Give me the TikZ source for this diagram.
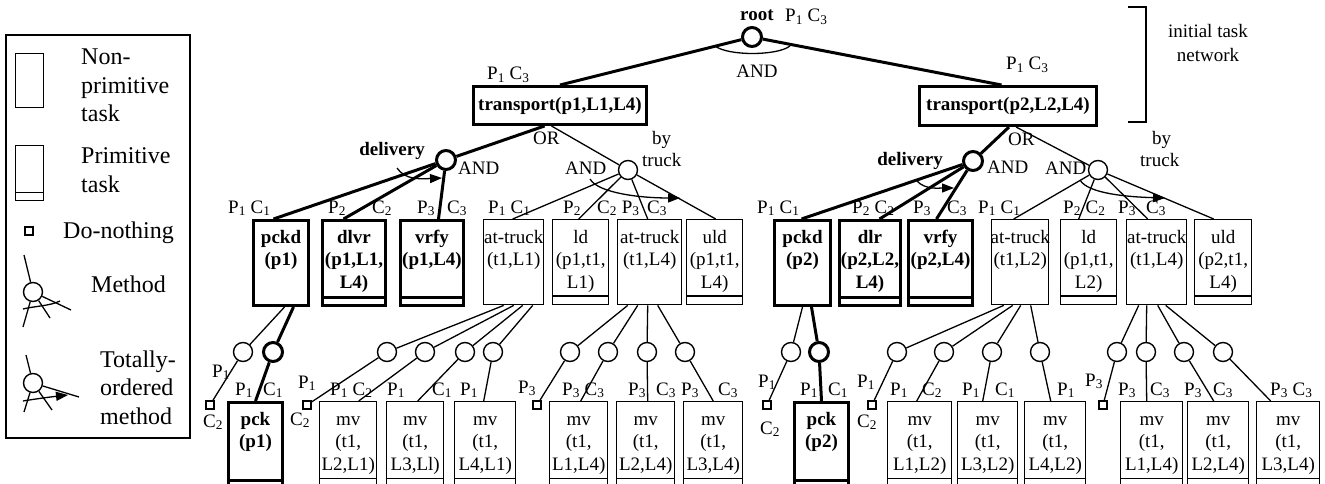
\documentclass[tikz,border=0pt]{standalone}
\usepackage{fontspec}
\setmainfont{Liberation Serif}
\usetikzlibrary{arrows.meta}
\newcommand{\sbs}[1]{\textsubscript{#1}}
\newcommand{\mfont}{\fontsize{19}{22.5}\selectfont}
\newcommand{\lfont}{\fontsize{24}{28.5}\selectfont}
\newcommand{\tsk}[5]{\node[#1, minimum width=#4pt] (#2) at (#3) {}; \node[ttext] at ([yshift=-24pt]#2.north) {\begin{tabular}[t]{@{}c@{}}#5\end{tabular}};}
\newcommand{\btsk}[5]{\node[#1, minimum width=#4pt] (#2) at (#3) {}; \node[bttext] at ([yshift=-24pt]#2.north) {\begin{tabular}[t]{@{}c@{}}#5\end{tabular}};}
\newcommand{\sepl}[3]{\draw[#1] ([yshift=#3pt]#2.south west) -- ([yshift=#3pt]#2.south east);}
\begin{document}
\begin{tikzpicture}[x=1pt,y=-1pt,
  every node/.style={font=\mfont, inner sep=0pt},
  ln/.style={line width=1.3pt},
  tl/.style={line width=3pt},
  task/.style={draw, line width=1.4pt, anchor=north west},
  btask/.style={task, line width=3pt},
  upper/.style={minimum height=85pt},
  lower/.style={minimum height=94pt},
  ttext/.style={anchor=base},
  bttext/.style={ttext, font=\mfont\bfseries},
  meth/.style={circle, draw, line width=1.4pt, minimum size=19pt},
  bmeth/.style={meth, line width=3pt},
  nothing/.style={draw, line width=1.3pt, minimum size=8pt},
  lab/.style={anchor=base west},
  ord/.style={ln, -{Triangle[length=12pt,width=9pt]}},
  lgtext/.style={anchor=base west, font=\lfont},
]
\useasboundingbox (0,0) rectangle (1325,484);
\clip (0,0) rectangle (1325,484);

% ---------------- legend ----------------
\draw[line width=1.4pt] (6,35) rectangle (190,438);
\node[task, minimum width=28pt, minimum height=54pt] (lg1) at (15,53) {};
\node[lgtext] (lg1t) at (81,65) {\begin{tabular}[t]{@{}l@{}}Non-\\primitive\\task\end{tabular}};
\node[task, minimum width=28pt, minimum height=55pt] (lg2) at (15,145) {};
\sepl{ln}{lg2}{9}
\node[lgtext] (lg2t) at (81,164) {\begin{tabular}[t]{@{}l@{}}Primitive\\task\end{tabular}};
\node[nothing] (lg3) at (29,231) {};
\node[lgtext] (lg3t) at (63,238) {Do-nothing};
\node[meth] (lgm) at (33,292) {};
\coordinate (lgm0) at (24,255);
\coordinate (lgm1) at (23,327);
\coordinate (lgm2) at (50,318);
\coordinate (lgm3) at (71,310);
\draw[ln] (lgm0) -- (lgm);
\draw[ln] (lgm) -- (lgm1);
\draw[ln] (lgm) -- (lgm2);
\draw[ln] (lgm) -- (lgm3);
\draw[ln] (23,309) .. controls (35,306) and (50,306) .. (60,301);
\node[lgtext] (lgmt) at (91,292) {Method};
\node[meth] (lgo) at (33,383) {};
\coordinate (lgo0) at (26,355);
\coordinate (lgo1) at (24,412);
\coordinate (lgo2) at (52,410);
\coordinate (lgo3) at (79,397);
\draw[ln] (lgo0) -- (lgo);
\draw[ln] (lgo) -- (lgo1);
\draw[ln] (lgo) -- (lgo2);
\draw[ln] (lgo) -- (lgo3);
\draw[ord] (23,401) .. controls (35,399) and (50,397) .. (68,395);
\node[lgtext] (lgot) at (100,367) {\begin{tabular}[t]{@{}l@{}}Totally-\\ordered\\method\end{tabular}};

% ---------------- top ----------------
\node[bmeth] (root) at (752,37) {};
\node[font=\mfont\bfseries, anchor=base west] (rootlab) at (740,21) {root};
\node[lab] (rootpc) at (785,22) {P\sbs{1} C\sbs{3}};
\draw[ln] (715,46) .. controls (728,56) and (777,56) .. (790,46);
\node[anchor=base] (andr) at (757,78) {AND};
\node[btask, minimum width=173pt, minimum height=38pt, font=\mfont\bfseries] (tr1) at (472,85) {transport(p1,L1,L4)};
\node[btask, minimum width=177pt, minimum height=39pt, font=\mfont\bfseries] (tr2) at (918,85) {transport(p2,L2,L4)};
\node[lab] (tr1pc) at (487,80) {P\sbs{1} C\sbs{3}};
\node[lab] (tr2pc) at (1006,70) {P\sbs{1} C\sbs{3}};
\draw[tl] (root) -- (tr1.north);
\draw[tl] (root) -- ([xshift=-6.5pt]tr2.north);
\draw[ln] (1128,7) -- (1146,7) -- (1146,122) -- (1128,122);
\node[anchor=base] (itn1) at (1208,38) {initial task};
\node[anchor=base] (itn2) at (1208,62) {network};

% ---------------- methods level 2 ----------------
\node[bmeth] (del1) at (446,160) {};
\node[meth] (tru1) at (628,170) {};
\node[bmeth] (del2) at (973,161) {};
\node[meth] (tru2) at (1098,170) {};
\draw[tl] ([xshift=-15.5pt]tr1.south) -- (del1);
\draw[ln] ([xshift=-8.5pt]tr1.south) -- (tru1);
\draw[tl] ([xshift=1pt]tr2.south) -- (del2);
\draw[ln] ([xshift=8pt]tr2.south) -- (tru2);
\node[lab] (or1) at (533,145) {OR};
\node[lab] (by1) at (652,145) {by};
\node[lab] (tk1) at (642,167) {truck};
\node[lab] (and1) at (458,175) {AND};
\node[lab] (and2) at (565,175) {AND};
\node[anchor=base east, font=\mfont\bfseries] (dl1) at (425,155) {delivery};
\node[lab] (or2) at (1008,146) {OR};
\node[lab] (by2) at (1152,145) {by};
\node[lab] (tk2) at (1140,167) {truck};
\node[lab] (and3) at (987,173) {AND};
\node[lab] (and4) at (1045,175) {AND};
\node[anchor=base east, font=\mfont\bfseries] (dl2) at (943,165) {delivery};

% ---------------- tasks level 2/3 ----------------
\btsk{btask,upper}{pckd1}{252,219}{55}{pckd\\(p1)}
\btsk{btask,upper}{dlvr1}{321,219}{63}{dlvr\\(p1,L1,\\L4)}
\sepl{tl}{dlvr1}{10}
\btsk{btask,upper}{vrfy1}{399,219}{63}{vrfy\\(p1,L4)}
\sepl{tl}{vrfy1}{10}
\tsk{task,upper}{atA}{483,219}{60}{at-truck\\(t1,L1)}
\tsk{task,upper}{ldA}{552,219}{56}{ld\\(p1,t1,\\L1)}
\sepl{ln}{ldA}{9.5}
\tsk{task,upper}{atB}{617,219}{64}{at-truck\\(t1,L4)}
\tsk{task,upper}{uldA}{686,219}{56}{uld\\(p1,t1,\\L4)}
\sepl{ln}{uldA}{9.5}
\btsk{btask,upper}{pckd2}{773,219}{56}{pckd\\(p2)}
\btsk{btask,upper}{dlr2}{838,219}{61}{dlr\\(p2,L2,\\L4)}
\sepl{tl}{dlr2}{10}
\btsk{btask,upper}{vrfy2}{907,219}{64}{vrfy\\(p2,L4)}
\sepl{tl}{vrfy2}{10}
\tsk{task,upper}{atC}{991,219}{57}{at-truck\\(t1,L2)}
\tsk{task,upper}{ldB}{1060,219}{56}{ld\\(p1,t1,\\L2)}
\sepl{ln}{ldB}{9.5}
\tsk{task,upper}{atD}{1126,219}{60}{at-truck\\(t1,L4)}
\tsk{task,upper}{uldB}{1194,219}{57}{uld\\(p2,t1,\\L4)}
\sepl{ln}{uldB}{9.5}

\draw[tl] (del1) -- ([xshift=-7.5pt]pckd1.north);
\draw[tl] (del1) -- ([xshift=-10.5pt]dlvr1.north);
\draw[tl] (del1) -- ([xshift=6.5pt]vrfy1.north);
\draw[ord] (397,168) .. controls (405,180) and (420,179) .. (442,178);
\draw[ln] (tru1) -- ([xshift=-1pt]atA.north);
\draw[ln] (tru1) -- ([xshift=-2pt]ldA.north);
\draw[ln] (tru1) -- ([xshift=-2pt]atB.north);
\draw[ln] (tru1) -- ([xshift=1pt]uldA.north);
\draw[ord] (590,179) .. controls (598,193) and (640,198) .. (680,198);
\draw[tl] (del2) -- ([xshift=-1pt]pckd2.north);
\draw[tl] (del2) -- ([xshift=9.5pt]dlr2.north);
\draw[tl] (del2) -- ([xshift=-4pt]vrfy2.north);
\draw[ord] (917,181) .. controls (925,190) and (940,188) .. (954,188);
\draw[ln] (tru2) -- ([xshift=-6.5pt]atC.north);
\draw[ln] (tru2) -- ([xshift=-10pt]ldB.north);
\draw[ln] (tru2) -- ([xshift=-9pt]atD.north);
\draw[ln] (tru2) -- ([xshift=-9.5pt]uldB.north);
\draw[ord] (1080,180) .. controls (1088,194) and (1130,197) .. (1165,198);

% labels level 2/3
\node[lab] at (228,213) {P\sbs{1} C\sbs{1}};
\node[lab] at (328,213) {P\sbs{2}};
\node[lab] at (372,213) {C\sbs{2}};
\node[lab] at (417,213) {P\sbs{3}};
\node[lab] at (447,213) {C\sbs{3}};
\node[lab] at (488,213) {P\sbs{1} C\sbs{1}};
\node[lab] at (563,213) {P\sbs{2}};
\node[lab] at (597,213) {C\sbs{2} P\sbs{3}};
\node[lab] at (647,213) {C\sbs{3}};
\node[lab] at (757,213) {P\sbs{1} C\sbs{1}};
\node[lab] at (852,213) {P\sbs{2} C\sbs{2}};
\node[lab] at (913,213) {P\sbs{3}};
\node[lab] at (947,213) {C\sbs{3}};
\node[lab] at (978,213) {P\sbs{1} C\sbs{1}};
\node[lab] at (1063,213) {P\sbs{2} C\sbs{2}};
\node[lab] at (1118,213) {P\sbs{3}};
\node[lab] at (1146,213) {C\sbs{3}};

% ---------------- bottom level ----------------
\btsk{btask,lower}{pckA}{227,401}{54}{pck\\(p1)}
\sepl{tl}{pckA}{18}
\tsk{task,lower}{mv1}{319,401}{57}{mv\\(t1,\\L2,L1)}
\tsk{task,lower}{mv2}{386,401}{57}{mv\\(t1,\\L3,Ll)}
\tsk{task,lower}{mv3}{454,401}{61}{mv\\(t1,\\L4,L1)}
\tsk{task,lower}{mv4}{549,401}{58}{mv\\(t1,\\L1,L4)}
\tsk{task,lower}{mv5}{616,401}{58}{mv\\(t1,\\L2,L4)}
\tsk{task,lower}{mv6}{683,401}{59}{mv\\(t1,\\L3,L4)}
\btsk{btask,lower}{pckB}{793,401}{54}{pck\\(p2)}
\sepl{tl}{pckB}{18}
\tsk{task,lower}{mv7}{887,401}{64}{mv\\(t1,\\L1,L2)}
\tsk{task,lower}{mv8}{957,401}{60}{mv\\(t1,\\L3,L2)}
\tsk{task,lower}{mv9}{1024,401}{61}{mv\\(t1,\\L4,L2)}
\tsk{task,lower}{mv10}{1120,401}{62}{mv\\(t1,\\L1,L4)}
\tsk{task,lower}{mv11}{1187,401}{61}{mv\\(t1,\\L2,L4)}
\tsk{task,lower}{mv12}{1256,401}{63}{mv\\(t1,\\L3,L4)}
\foreach \m in {mv1,mv2,mv3,mv4,mv5,mv6,mv7,mv8,mv9,mv10,mv11,mv12}{\sepl{ln}{\m}{18}}

\node[meth] (cA) at (243,352) {};
\node[bmeth] (cB) at (273,352) {};
\node[meth] (cC) at (387,352) {};
\node[meth] (cD) at (425,352) {};
\node[meth] (cE) at (465,352) {};
\node[meth] (cF) at (493,352) {};
\node[meth] (cG) at (570,352) {};
\node[meth] (cH) at (608,352) {};
\node[meth] (cI) at (647,352) {};
\node[meth] (cJ) at (685,352) {};
\node[meth] (cK) at (791,352) {};
\node[bmeth] (cL) at (819,352) {};
\node[meth] (cM) at (897,352) {};
\node[meth] (cN) at (944,352) {};
\node[meth] (cO) at (992,352) {};
\node[meth] (cP) at (1040,352) {};
\node[meth] (cQ) at (1117,352) {};
\node[meth] (cR) at (1146,352) {};
\node[meth] (cS) at (1184,352) {};
\node[meth] (cT) at (1223,352) {};

\node[nothing] (n1) at (210,405) {};
\node[nothing] (n2) at (307,405) {};
\node[nothing] (n3) at (537,405) {};
\node[nothing] (n4) at (767,405) {};
\node[nothing] (n5) at (872,405) {};
\node[nothing] (n6) at (1103,405) {};

% connectors bottom
\draw[ln] ([xshift=3.5pt]pckd1.south) -- (cA);
\draw[tl] ([xshift=12.5pt]pckd1.south) -- (cB);
\draw[ln] (cA) -- (n1);
\draw[tl] (cB) -- (pckA.north);
\draw[ln] ([xshift=-10pt]atA.south) -- (cC);
\draw[ln] ([xshift=0pt]atA.south) -- (cD);
\draw[ln] ([xshift=9pt]atA.south) -- (cE);
\draw[ln] ([xshift=19pt]atA.south) -- (cF);
\draw[ln] (cC) -- (n2);
\draw[ln] (cD) -- ([xshift=10.5pt]mv1.north);
\draw[ln] (cE) -- ([xshift=2.5pt]mv2.north);
\draw[ln] (cF) -- ([xshift=-1.5pt]mv3.north);
\draw[ln] ([xshift=-22pt]atB.south) -- (cG);
\draw[ln] ([xshift=-12pt]atB.south) -- (cH);
\draw[ln] ([xshift=-2pt]atB.south) -- (cI);
\draw[ln] ([xshift=8pt]atB.south) -- (cJ);
\draw[ln] (cG) -- (n3);
\draw[ln] (cH) -- ([xshift=2pt]mv4.north);
\draw[ln] (cI) -- ([xshift=2pt]mv5.north);
\draw[ln] (cJ) -- (mv6.north);
\draw[ln] (pckd2.south) -- (cK);
\draw[tl] ([xshift=9pt]pckd2.south) -- (cL);
\draw[ln] (cK) -- (n4);
\draw[tl] (cL) -- (pckB.north);
\draw[ln] ([xshift=-16.5pt]atC.south) -- (cM);
\draw[ln] ([xshift=-7.5pt]atC.south) -- (cN);
\draw[ln] ([xshift=0.5pt]atC.south) -- (cO);
\draw[ln] ([xshift=10.5pt]atC.south) -- (cP);
\draw[ln] (cM) -- (n5);
\draw[ln] (cN) -- ([xshift=-3pt]mv7.north);
\draw[ln] (cO) -- ([xshift=-5pt]mv8.north);
\draw[ln] (cP) -- ([xshift=-4.5pt]mv9.north);
\draw[ln] ([xshift=-18pt]atD.south) -- (cQ);
\draw[ln] ([xshift=-10pt]atD.south) -- (cR);
\draw[ln] ([xshift=1pt]atD.south) -- (cS);
\draw[ln] ([xshift=9pt]atD.south) -- (cT);
\draw[ln] (cQ) -- (n6);
\draw[ln] (cR) -- ([xshift=-5pt]mv10.north);
\draw[ln] (cS) -- ([xshift=-4.5pt]mv11.north);
\draw[ln] (cT) -- ([xshift=-17.5pt]mv12.north);

% labels bottom
\node[lab] at (212,377) {P\sbs{1}};
\node[lab] at (203,427) {C\sbs{2}};
\node[lab] at (235,395) {P\sbs{1}};
\node[lab] at (263,395) {C\sbs{1}};
\node[lab] at (298,388) {P\sbs{1}};
\node[lab] at (290,425) {C\sbs{2}};
\node[lab] at (330,395) {P\sbs{1} C\sbs{2}};
\node[lab] at (387,395) {P\sbs{1}};
\node[lab] at (432,395) {C\sbs{1}};
\node[lab] at (460,395) {P\sbs{1}};
\node[lab] at (518,393) {P\sbs{3}};
\node[lab] at (562,395) {P\sbs{3} C\sbs{3}};
\node[lab] at (628,395) {P\sbs{3}};
\node[lab] at (656,395) {C\sbs{3}};
\node[lab] at (681,395) {P\sbs{3}};
\node[lab] at (718,395) {C\sbs{3}};
\node[lab] at (758,387) {P\sbs{1}};
\node[lab] at (760,434) {C\sbs{2}};
\node[lab] at (800,395) {P\sbs{1}};
\node[lab] at (828,395) {C\sbs{1}};
\node[lab] at (857,387) {P\sbs{1}};
\node[lab] at (857,427) {C\sbs{2}};
\node[lab] at (890,395) {P\sbs{1}};
\node[lab] at (922,395) {C\sbs{2}};
\node[lab] at (962,395) {P\sbs{1}};
\node[lab] at (995,395) {C\sbs{1}};
\node[lab] at (1057,395) {P\sbs{1}};
\node[lab] at (1085,386) {P\sbs{3}};
\node[lab] at (1118,395) {P\sbs{3}};
\node[lab] at (1150,395) {C\sbs{3}};
\node[lab] at (1184,395) {P\sbs{3}};
\node[lab] at (1213,395) {C\sbs{3}};
\node[lab] at (1270,395) {P\sbs{3} C\sbs{3}};
\end{tikzpicture}
\end{document}
